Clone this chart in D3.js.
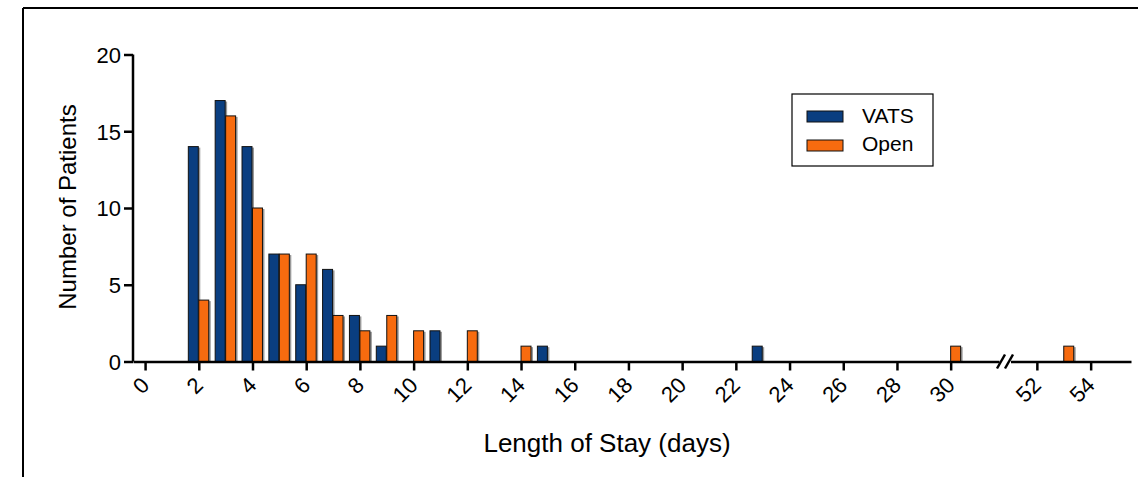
<!DOCTYPE html>
<html>
<head>
<meta charset="utf-8">
<script src="https://cdn.jsdelivr.net/npm/d3@7"></script>
<style>
  body { margin: 0; background: #fff; }
  text { font-family: Arial, "Liberation Sans", sans-serif; fill: #000; }
</style>
</head>
<body>
<script>
var w = 1138;
var h = 477;

// length of stay (days) and patient counts
var days = [2, 3, 4, 5, 6, 7, 8, 9, 10, 11, 12, 14, 15, 23, 30, 53];
var vats = [14, 17, 14, 7, 5, 6, 3, 1, 0, 2, 0, 0, 1, 1, 0, 0];
var open = [4, 16, 10, 7, 7, 3, 2, 3, 2, 0, 2, 1, 0, 0, 1, 1];

var seriesNames = ["VATS", "Open"];
var colors = ["#0a3e80", "#f76b0f"];

var xTicks1 = [0, 2, 4, 6, 8, 10, 12, 14, 16, 18, 20, 22, 24, 26, 28, 30];
var xTicks2 = [52, 54];
var yTicks = [0, 5, 10, 15, 20];

var svg = d3.select("body")
  .append("svg")
  .attr("width", w)
  .attr("height", h);

// outer frame (top and left edges only visible)
svg.append("path")
  .attr("d", "M23,8H" + w + "M23,8V" + h)
  .attr("fill", "none")
  .attr("stroke", "#000")
  .attr("stroke-width", 2);

var y = d3.scaleLinear().domain([0, 20]).range([361.5, 54.5]);

// broken x axis: two segments with the same unit width
var x1 = d3.scaleLinear().domain([-0.45, 31.8]).range([133, 999]);
var x2 = d3.scaleLinear().domain([51.02, 55.5]).range([1010.5, 1131]);
function xPos(d) { return d > 40 ? x2(d) : x1(d); }
var barW = x1(0.39) - x1(0);

var g = svg.append("g");

// bars
var rows = days.map(function(d, i) { return { day: d, vals: [vats[i], open[i]] }; });
rows.forEach(function(r) {
  r.vals.forEach(function(v, k) {
    if (!v) return;
    var xl = k == 0 ? xPos(r.day) - barW : xPos(r.day);
    g.append("rect")
      .attr("x", xl + 1.5)
      .attr("y", y(v) + 1)
      .attr("width", barW)
      .attr("height", y(0) - y(v) - 1)
      .attr("fill", "#9a9a9a");
    g.append("rect")
      .attr("x", xl)
      .attr("y", y(v))
      .attr("width", barW - 0.5)
      .attr("height", y(0) - y(v))
      .attr("fill", colors[k])
      .attr("stroke", "#111")
      .attr("stroke-width", 1);
  });
});

// y axis
var yAxis = d3.axisLeft(y).tickValues(yTicks).tickSize(9).tickPadding(3);
var gy = svg.append("g").attr("transform", "translate(133,0)").call(yAxis);
gy.select(".domain").attr("d", "M0," + y(20) + "V" + y(0)).attr("stroke-width", 2.5);
gy.selectAll(".tick line").attr("stroke-width", 2.5);
gy.selectAll(".tick text").style("font-size", "22px").attr("dy", "0.36em");

// x axis segments
function xAxisSeg(scale, ticks) {
  var ax = d3.axisBottom(scale).tickValues(ticks).tickFormat(d3.format("d"))
    .tickSize(9).tickSizeOuter(0);
  var gx = svg.append("g").attr("transform", "translate(0," + y(0) + ")").call(ax);
  gx.select(".domain").attr("stroke-width", 2.5);
  gx.selectAll(".tick line").attr("stroke-width", 2.5);
  gx.selectAll(".tick text")
    .style("font-size", "22px")
    .attr("text-anchor", "end")
    .attr("y", 0)
    .attr("dy", 0)
    .attr("transform", "translate(5,25) rotate(-45)");
  return gx;
}
xAxisSeg(x1, xTicks1);
xAxisSeg(x2, xTicks2);

// axis break marks
[0, 8].forEach(function(off) {
  svg.append("line")
    .attr("x1", 997 + off).attr("y1", y(0) + 7)
    .attr("x2", 1005 + off).attr("y2", y(0) - 7)
    .attr("stroke", "#000")
    .attr("stroke-width", 2.5);
});

// axis titles
svg.append("text")
  .attr("transform", "translate(76,207) rotate(-90)")
  .attr("text-anchor", "middle")
  .style("font-size", "24px")
  .text("Number of Patients");

svg.append("text")
  .attr("x", 607)
  .attr("y", 452)
  .attr("text-anchor", "middle")
  .style("font-size", "26px")
  .text("Length of Stay (days)");

// legend
var lg = svg.append("g").attr("transform", "translate(792,94)");
lg.append("rect")
  .attr("width", 141).attr("height", 72)
  .attr("fill", "#fff").attr("stroke", "#000").attr("stroke-width", 1.2);
seriesNames.forEach(function(name, i) {
  lg.append("rect")
    .attr("x", 15).attr("y", 17 + i * 29)
    .attr("width", 36).attr("height", 11)
    .attr("fill", colors[i]).attr("stroke", "#111").attr("stroke-width", 1);
  lg.append("text")
    .attr("x", 70).attr("y", 29 + i * 28)
    .style("font-size", "21px")
    .text(name);
});
</script>
</body>
</html>
